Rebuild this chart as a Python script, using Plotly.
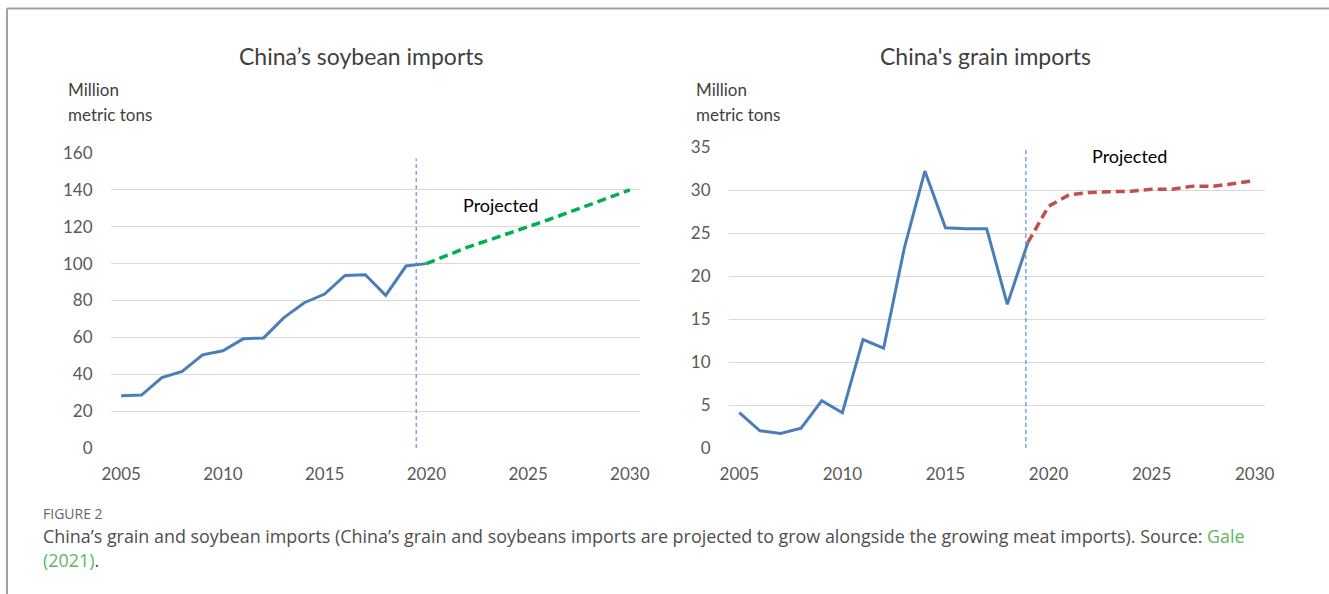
import plotly.graph_objects as go

W, H = 1329, 594

# ---- data ----
years_hist = list(range(2005, 2021))
soy_hist = [28.3, 28.7, 38.2, 41.5, 50.5, 52.7, 59.2, 59.7, 70.7, 78.8,
            83.5, 93.6, 94.0, 82.8, 98.7, 100.0]
years_soy_proj = list(range(2020, 2031))
soy_proj = [100.0, 104.5, 108.8, 112.5, 116.2, 120.0, 123.8, 127.8,
            131.7, 135.8, 140.0]

years_grain_hist = list(range(2005, 2020))
grain_hist = [4.1, 2.0, 1.7, 2.3, 5.5, 4.1, 12.6, 11.6, 23.2, 32.2,
              25.6, 25.5, 25.5, 16.7, 23.9]
years_grain_proj = list(range(2019, 2031))
grain_proj = [23.9, 28.1, 29.45, 29.7, 29.8, 29.85, 30.1, 30.1, 30.45,
              30.45, 30.75, 31.1]

soy_ticks = [0, 20, 40, 60, 80, 100, 120, 140, 160]
grain_ticks = [0, 5, 10, 15, 20, 25, 30, 35]
year_ticks = [2005, 2010, 2015, 2020, 2025, 2030]

soy_split = 2019.5      # boundary between actual and projected
grain_split = 2018.9


def px(x):
    return x / W


def py(y):
    return 1 - y / H


BLUE = "#4a7ebb"
GREEN = "#00b050"
RED = "#c0504d"
VLINE = "#5b8fd0"
GRID = "#d9d9d9"
TICK = "#595959"
CHART_FONT = "Lato"
CAP_FONT = "Open Sans"

fig = go.Figure()

fig.add_trace(go.Scatter(x=years_hist, y=soy_hist, mode="lines",
                         line=dict(color=BLUE, width=3), xaxis="x", yaxis="y"))
fig.add_trace(go.Scatter(x=years_soy_proj, y=soy_proj, mode="lines",
                         line=dict(color=GREEN, width=3.5, dash="9px,5px"),
                         xaxis="x", yaxis="y"))
fig.add_trace(go.Scatter(x=[soy_split, soy_split], y=[0, 157], mode="lines",
                         line=dict(color=VLINE, width=1.2, dash="4px,3px"),
                         xaxis="x", yaxis="y"))

fig.add_trace(go.Scatter(x=years_grain_hist, y=grain_hist, mode="lines",
                         line=dict(color=BLUE, width=3), xaxis="x2", yaxis="y2"))
fig.add_trace(go.Scatter(x=years_grain_proj, y=grain_proj, mode="lines",
                         line=dict(color=RED, width=3.5, dash="9px,5px"),
                         xaxis="x2", yaxis="y2"))
fig.add_trace(go.Scatter(x=[grain_split, grain_split], y=[0, 34.7], mode="lines",
                         line=dict(color=VLINE, width=1.2, dash="4px,3px"),
                         xaxis="x2", yaxis="y2"))

xaxis_common = dict(range=[2004.5, 2030.5], tickvals=year_ticks,
                    showgrid=False, zeroline=False, showline=False,
                    ticks="outside", ticklen=11, tickcolor="rgba(0,0,0,0)",
                    tickfont=dict(family=CHART_FONT, size=17, color=TICK),
                    automargin=False)
yaxis_common = dict(showgrid=True, gridcolor=GRID, gridwidth=1,
                    zeroline=False, showline=False,
                    ticks="outside", ticklen=14, tickcolor="rgba(0,0,0,0)",
                    tickfont=dict(family=CHART_FONT, size=17, color=TICK),
                    automargin=False)

fig.update_layout(
    width=W, height=H,
    margin=dict(l=0, r=0, t=0, b=0, pad=0, autoexpand=False),
    paper_bgcolor="white", plot_bgcolor="white",
    showlegend=False,
    xaxis=dict(domain=[px(111), px(640)], anchor="y", **xaxis_common),
    yaxis=dict(domain=[py(448), py(153)], anchor="x", range=[0, 160],
               tickvals=soy_ticks, **yaxis_common),
    xaxis2=dict(domain=[px(729), px(1265)], anchor="y2", **xaxis_common),
    yaxis2=dict(domain=[py(448), py(147)], anchor="x2", range=[0, 35],
                tickvals=grain_ticks, **yaxis_common),
)

LABEL = dict(family=CHART_FONT, size=17, color="#404040")
TITLE = dict(family=CHART_FONT, size=23, color="#404040")
annotations = [
    dict(text="China’s soybean imports", x=px(361), y=py(56), font=TITLE),
    dict(text="China's grain imports", x=px(986), y=py(56), font=TITLE),
    dict(text="Million", x=px(66), y=py(90), xanchor="left", font=LABEL),
    dict(text="metric tons", x=px(66), y=py(114), xanchor="left", font=LABEL),
    dict(text="Million", x=px(694), y=py(90), xanchor="left", font=LABEL),
    dict(text="metric tons", x=px(694), y=py(114), xanchor="left", font=LABEL),
    dict(text="Projected", x=px(500), y=py(205),
         font=dict(family=CHART_FONT, size=18, color="#000000")),
    dict(text="Projected", x=px(1129), y=py(156),
         font=dict(family=CHART_FONT, size=18, color="#000000")),
    dict(text="FIGURE 2", x=px(41), y=py(513), xanchor="left",
         font=dict(family=CAP_FONT, size=14, color="#666666")),
    dict(text="China’s grain and soybean imports (China’s grain and soybeans imports are "
              "projected to grow alongside the growing meat imports). Source: "
              "<span style='color:#5cb85c'>Gale</span>",
         x=px(41), y=py(536), xanchor="left",
         font=dict(family=CAP_FONT, size=17.9, color="#4d4d4d")),
    dict(text="<span style='color:#5cb85c'>(2021)</span>.", x=px(41), y=py(560),
         xanchor="left",
         font=dict(family=CAP_FONT, size=17.9, color="#4d4d4d")),
]
for a in annotations:
    a.setdefault("xanchor", "center")
    a.setdefault("yanchor", "middle")
    a.update(xref="paper", yref="paper", showarrow=False)
fig.update_layout(annotations=annotations)

# page frame lines
fig.add_shape(type="line", xref="paper", yref="paper",
              x0=px(7), x1=1, y0=py(8.5), y1=py(8.5),
              line=dict(color="#a0a0a0", width=2))
fig.add_shape(type="line", xref="paper", yref="paper",
              x0=px(7), x1=px(7), y0=py(8.5), y1=0,
              line=dict(color="#a0a0a0", width=2))

fig.write_html("out.html")
